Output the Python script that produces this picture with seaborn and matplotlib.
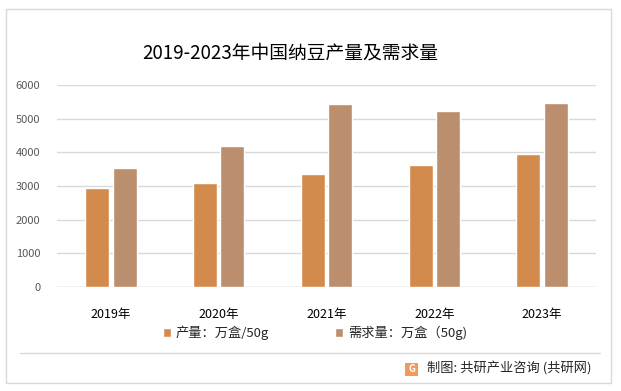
import numpy as np
import pandas as pd
import matplotlib
matplotlib.use("Agg")
import matplotlib.pyplot as plt
from matplotlib.patches import Rectangle
from matplotlib.lines import Line2D
import seaborn as sns

# data
years = ["2019年", "2020年", "2021年", "2022年", "2023年"]
production = [2950, 3100, 3360, 3630, 3950]
demand = [3540, 4190, 5435, 5230, 5465]
series_names = ["产量：万盒/50g", "需求量：万盒（50g)"]
colors = ["#D38B4D", "#BB8E6E"]

df = pd.DataFrame({
    "year": years * 2,
    "value": production + demand,
    "series": [series_names[0]] * len(years) + [series_names[1]] * len(years),
})

sns.set_theme(style="white")
plt.rcParams["font.family"] = ["Noto Sans CJK SC", "DejaVu Sans"]

W, H = 621, 391
fig = plt.figure(figsize=(W / 100, H / 100), dpi=100)
fig.patch.set_facecolor("white")

ax = fig.add_axes([57 / W, 1 - 287 / H, (596 - 57) / W, (287 - 85) / H])
ax.patch.set_alpha(0)

sns.barplot(data=df, x="year", y="value", hue="series", palette=colors,
            width=0.51, gap=0.13, ax=ax, saturation=1, legend=True, zorder=3)

ax.set_ylim(0, 6000)
ax.set_yticks(range(0, 6001, 1000))
ax.yaxis.grid(True, color="#D9D9D9", lw=1, zorder=0)
ax.set_axisbelow(True)
for s in ax.spines.values():
    s.set_visible(False)
ax.axhline(0, color="#D9D9D9", lw=1, zorder=1)
ax.set_xlabel("")
ax.set_ylabel("")
ax.tick_params(axis="y", length=0, labelsize=8, labelcolor="#595959", pad=12)
ax.tick_params(axis="x", length=0, labelsize=9, labelcolor="#000000", pad=15)

handles, labels = ax.get_legend_handles_labels()
ax.get_legend().remove()
fig.legend(handles, labels, loc="center", bbox_to_anchor=(315 / W, 1 - 333 / H), ncol=2,
           frameon=False, fontsize=9.5, handlelength=0.6, handleheight=0.6,
           handletextpad=0.4, columnspacing=5.0)

fig.text(290 / W, 1 - 53 / H, "2019-2023年中国纳豆产量及需求量", fontsize=13.5,
         ha="center", va="center", color="#000000")

# frame and separator
fig.add_artist(Rectangle((6 / W, 1 - 383 / H), (611 - 6) / W, (383 - 9) / H,
                         transform=fig.transFigure, fill=False, edgecolor="#D9D9D9", lw=1))
fig.add_artist(Line2D([20 / W, 600 / W], [1 - 353 / H, 1 - 353 / H],
                      transform=fig.transFigure, color="#D9D9D9", lw=1))

# source line with small logo
fig.add_artist(Rectangle((405 / W, 1 - 376 / H), 13 / W, 13 / H, transform=fig.transFigure,
                         facecolor="#F29A5B", edgecolor="none"))
fig.text(411.5 / W, 1 - 369.5 / H, "G", fontsize=7, fontweight="bold", color="white",
         ha="center", va="center")
fig.text(427 / W, 1 - 369 / H, "制图: 共研产业咨询 (共研网)", fontsize=9.5,
         ha="left", va="center", color="#262626")

fig.savefig("out.png", dpi=100)
